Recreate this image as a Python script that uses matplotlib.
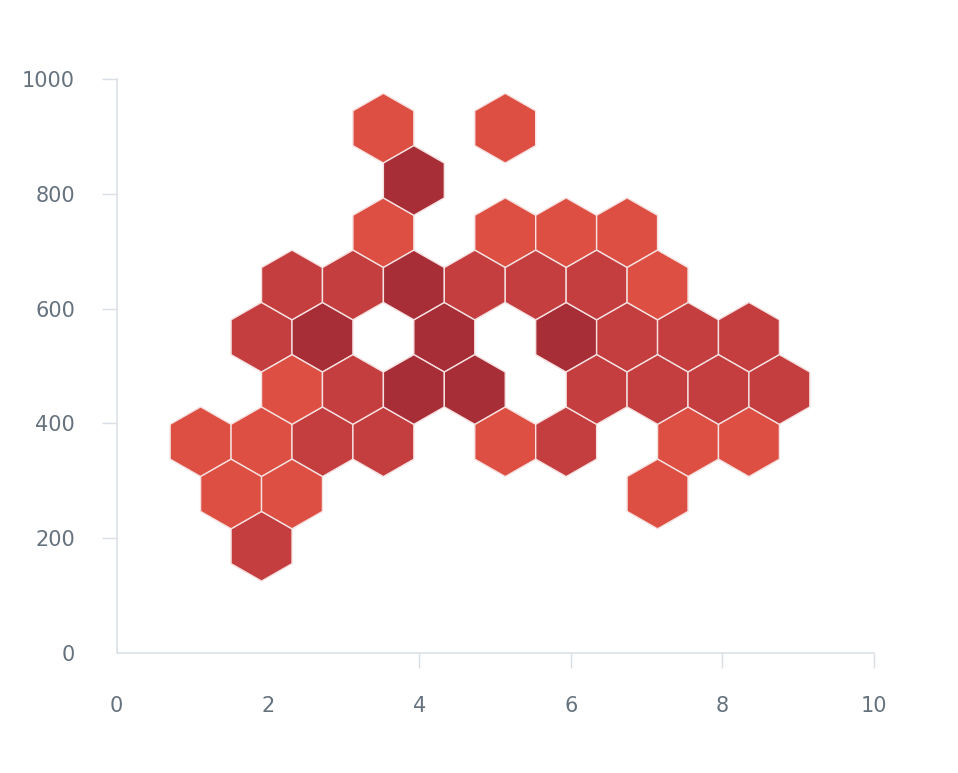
import numpy as np
import matplotlib
matplotlib.use("Agg")
import matplotlib.pyplot as plt
from matplotlib.colors import ListedColormap, BoundaryNorm

# hex bin centres, with a density level (1 light .. 3 dark)
hex_x = [3.524, 5.134,
         3.926,
         3.524, 5.134, 5.939, 6.744,
         2.316, 3.121, 3.926, 4.731, 5.536, 6.341, 7.146,
         1.914, 2.719, 4.329, 5.939, 6.744, 7.549, 8.354,
         2.316, 3.121, 3.926, 4.731, 6.341, 7.146, 7.951, 8.756,
         1.109, 1.914, 2.719, 3.524, 5.134, 5.939, 7.549, 8.354,
         1.511, 2.316, 7.146,
         1.914]
hex_y = [914.6, 914.6,
         823.5,
         732.4, 732.4, 732.4, 732.4,
         641.3, 641.3, 641.3, 641.3, 641.3, 641.3, 641.3,
         550.2, 550.2, 550.2, 550.2, 550.2, 550.2, 550.2,
         459.1, 459.1, 459.1, 459.1, 459.1, 459.1, 459.1, 459.1,
         368.0, 368.0, 368.0, 368.0, 368.0, 368.0, 368.0, 368.0,
         276.9, 276.9, 276.9,
         185.8]
hex_level = [1, 1,
             3,
             1, 1, 1, 1,
             2, 2, 3, 2, 2, 2, 1,
             2, 3, 3, 3, 2, 2, 2,
             1, 2, 3, 3, 2, 2, 2, 2,
             1, 1, 2, 2, 1, 2, 1, 1,
             1, 1, 1,
             2]

x_ticks = [0, 2, 4, 6, 8, 10]
y_ticks = [0, 200, 400, 600, 800, 1000]

hex_colors = ['#dd4f42', '#c43d3f', '#a72d36']
label_color = '#66737f'
line_color = '#d9dfe4'

fig = plt.figure(figsize=(9.58, 7.73), dpi=100)
ax = fig.add_axes([0.1218, 0.1555, 0.79, 0.742])

cmap = ListedColormap(hex_colors)
norm = BoundaryNorm([0.5, 1.5, 2.5, 3.5], 3)
ax.hexbin(hex_x, hex_y, C=hex_level, gridsize=(11, 5),
          extent=(0.304, 9.159, 3.6, 914.6), reduce_C_function=np.max,
          cmap=cmap, norm=norm, edgecolors='#f6e0e0', linewidths=1.0)

ax.set_xlim(0, 10)
ax.set_ylim(0, 1000)
ax.set_xticks(x_ticks)
ax.set_yticks(y_ticks)
ax.set_xticklabels([str(v) for v in x_ticks])
ax.set_yticklabels([str(v) for v in y_ticks])

for s in ['top', 'right']:
    ax.spines[s].set_visible(False)
for s in ['left', 'bottom']:
    ax.spines[s].set_color(line_color)
    ax.spines[s].set_linewidth(1.1)

ax.tick_params(axis='both', colors=line_color, length=11, width=1,
               labelcolor=label_color, labelsize=15)
ax.tick_params(axis='x', pad=20)
ax.tick_params(axis='y', pad=19)

# no tick marks at the first x ticks and the bottom y tick
for t in ax.xaxis.get_major_ticks()[:2]:
    t.tick1line.set_visible(False)
ax.yaxis.get_major_ticks()[0].tick1line.set_visible(False)

fig.savefig('out.png', dpi=100, facecolor='white')
